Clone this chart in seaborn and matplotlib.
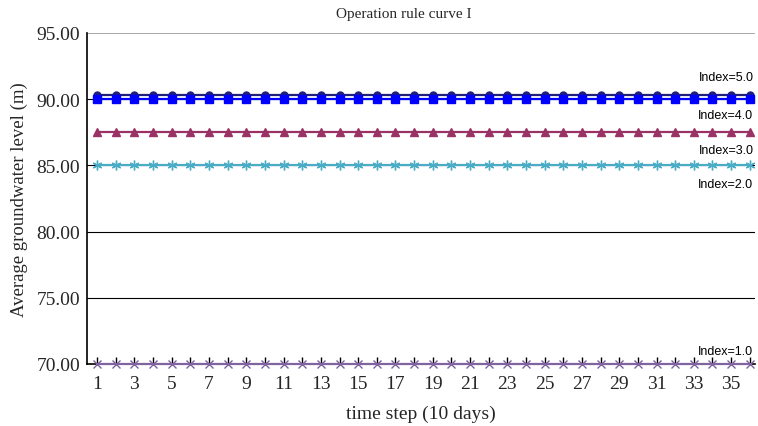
import matplotlib
matplotlib.use("Agg")
import matplotlib.pyplot as plt
from matplotlib.ticker import MultipleLocator, FixedLocator, FormatStrFormatter
import seaborn as sns
import pandas as pd

# time steps (10-day periods)
steps = list(range(1, 37))

# groundwater level for each rule index, per time step
index5 = [90.35, 90.35, 90.35, 90.35, 90.35, 90.35, 90.35, 90.35, 90.35, 90.35, 90.35, 90.35,
          90.35, 90.35, 90.35, 90.35, 90.35, 90.35, 90.35, 90.35, 90.35, 90.35, 90.35, 90.35,
          90.35, 90.35, 90.35, 90.35, 90.35, 90.35, 90.35, 90.35, 90.35, 90.35, 90.35, 90.35]
index4 = [90.0, 90.0, 90.0, 90.0, 90.0, 90.0, 90.0, 90.0, 90.0, 90.0, 90.0, 90.0,
          90.0, 90.0, 90.0, 90.0, 90.0, 90.0, 90.0, 90.0, 90.0, 90.0, 90.0, 90.0,
          90.0, 90.0, 90.0, 90.0, 90.0, 90.0, 90.0, 90.0, 90.0, 90.0, 90.0, 90.0]
index3 = [87.5, 87.5, 87.5, 87.5, 87.5, 87.5, 87.5, 87.5, 87.5, 87.5, 87.5, 87.5,
          87.5, 87.5, 87.5, 87.5, 87.5, 87.5, 87.5, 87.5, 87.5, 87.5, 87.5, 87.5,
          87.5, 87.5, 87.5, 87.5, 87.5, 87.5, 87.5, 87.5, 87.5, 87.5, 87.5, 87.5]
index2 = [85.0, 85.0, 85.0, 85.0, 85.0, 85.0, 85.0, 85.0, 85.0, 85.0, 85.0, 85.0,
          85.0, 85.0, 85.0, 85.0, 85.0, 85.0, 85.0, 85.0, 85.0, 85.0, 85.0, 85.0,
          85.0, 85.0, 85.0, 85.0, 85.0, 85.0, 85.0, 85.0, 85.0, 85.0, 85.0, 85.0]
index1 = [70.0, 70.0, 70.0, 70.0, 70.0, 70.0, 70.0, 70.0, 70.0, 70.0, 70.0, 70.0,
          70.0, 70.0, 70.0, 70.0, 70.0, 70.0, 70.0, 70.0, 70.0, 70.0, 70.0, 70.0,
          70.0, 70.0, 70.0, 70.0, 70.0, 70.0, 70.0, 70.0, 70.0, 70.0, 70.0, 70.0]

labels = ["Index=5.0", "Index=4.0", "Index=3.0", "Index=2.0", "Index=1.0"]
series = [index5, index4, index3, index2, index1]
colors = ["#1f1f7a", "#0000ff", "#993366", "#4bacc6", "#8064a2"]
markers = ["o", "s", "^", (6, 2, 0), "x"]
msizes = [5, 5.5, 5.5, 7, 5.5]

sns.set_theme(style="white")
plt.rcParams["font.family"] = ["Liberation Serif", "DejaVu Serif"]

fig = plt.figure(figsize=(7.58, 4.27), dpi=100)
ax = fig.add_axes([0.1148, 0.1452, 0.8812, 0.7752])

# horizontal reference lines
for yv in [75, 80, 85, 90]:
    ax.axhline(yv, color="black", lw=0.8, zorder=0)
ax.axhline(95, color="#999999", lw=1.2, zorder=0)

frames = []
for lab, vals in zip(labels, series):
    frames.append(pd.DataFrame({"step": steps, "level": vals, "rule": lab}))
df = pd.concat(frames, ignore_index=True)

for lab, col, mk, ms in zip(labels, colors, markers, msizes):
    sub = df[df["rule"] == lab]
    sns.lineplot(data=sub, x="step", y="level", ax=ax, color=col, marker=mk,
                 markersize=ms, markeredgecolor=col, markeredgewidth=1.0,
                 linewidth=1.6, legend=False)
for ln in ax.lines[5:]:
    ln.set_clip_on(False)
    ln.set_zorder(4)

# series labels at the right edge (offset in data units from each line)
label_offsets = [0.9, -0.75, -0.85, -0.95, 0.55]
for lab, vals, off in zip(labels, series, label_offsets):
    va = "bottom" if off > 0 else "top"
    ax.text(36.2, vals[-1] + off, lab, ha="right", va=va, fontsize=9,
            family=["Liberation Sans", "DejaVu Sans"], color="black")

ax.set_xlim(0.46, 36.28)
ax.set_ylim(70, 95)
ax.yaxis.set_major_locator(MultipleLocator(5))
ax.yaxis.set_major_formatter(FormatStrFormatter("%.2f"))
ax.xaxis.set_major_locator(FixedLocator(list(range(1, 37, 2))))
ax.xaxis.set_minor_locator(FixedLocator(list(range(2, 37, 2))))

for side in ["top", "right"]:
    ax.spines[side].set_visible(False)
ax.spines["left"].set_color("black")
ax.spines["bottom"].set_color("black")
ax.spines["left"].set_linewidth(1.2)
ax.spines["bottom"].set_linewidth(1.2)

ax.tick_params(axis="x", which="both", direction="in", length=5, width=1, color="black",
               labelsize=14, pad=8, bottom=True)
ax.tick_params(axis="y", which="major", direction="in", length=0, labelsize=14, pad=5, left=True)

ax.set_xlabel("time step (10 days)", fontsize=14, labelpad=9)
ax.set_ylabel("Average groundwater level (m)", fontsize=13.5, labelpad=6)
fig.text(0.533, 0.965, "Operation rule curve I", fontsize=11, ha="center", va="center")

fig.savefig("out.png", dpi=100)
